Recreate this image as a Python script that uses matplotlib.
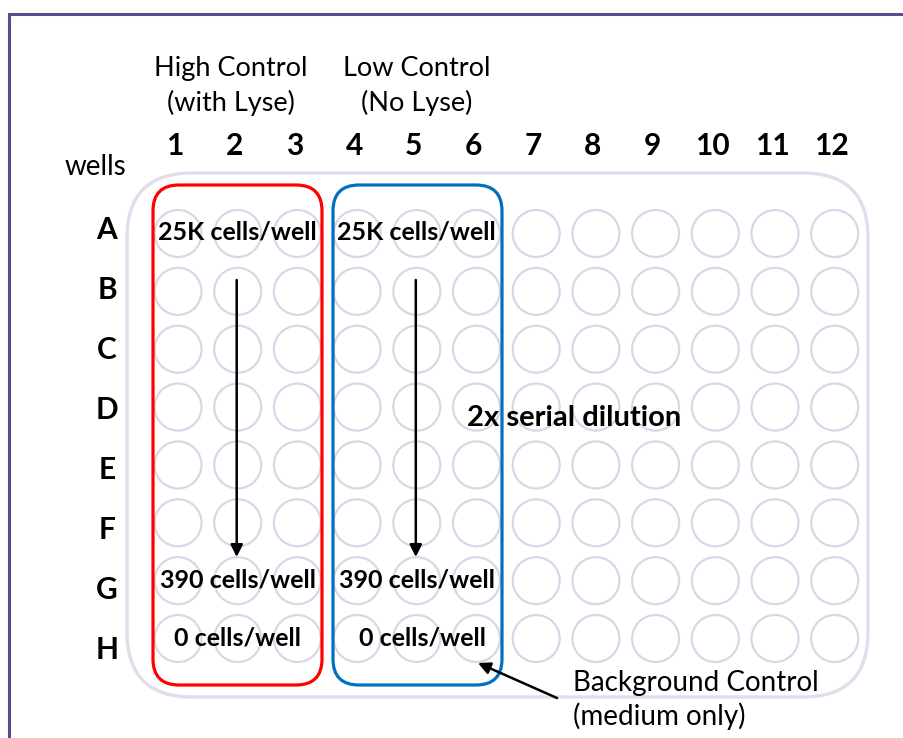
import matplotlib.pyplot as plt
from matplotlib.patches import Ellipse, FancyBboxPatch

# plate layout
columns = [str(c) for c in range(1, 13)]
rows = ["A", "B", "C", "D", "E", "F", "G", "H"]

# group labels over the columns
group_labels = ["High Control\n(with Lyse)", "Low Control\n(No Lyse)"]
group_cols = [1.89, 5.0]

# well annotations: (text, column, row)
well_texts = [
    ("25K cells/well", 2, "A"), ("25K cells/well", 5, "A"),
    ("390 cells/well", 2, "G"), ("390 cells/well", 5, "G"),
    ("0 cells/well", 2, "H"), ("0 cells/well", 5.1, "H"),
]

# pixel geometry of the plate
x0, dx = 178, 59.7
y0, dy = 233.5, 57.86
r_well = 23.5


def wx(c):
    return x0 + (c - 1) * dx


def wy(r):
    return y0 + rows.index(r) * dy


plt.rcParams['font.family'] = ['Lato', 'DejaVu Sans']
fig = plt.figure(figsize=(9.04, 7.38), dpi=100)
ax = fig.add_axes([0, 0, 1, 1])
ax.set_xlim(0, 904)
ax.set_ylim(738, 0)
ax.axis("off")

# outer frame
frame = "#5f4a8b"
ax.plot([9.5, 9.5, 904], [738, 13.5, 13.5], color=frame, lw=2.2,
        solid_joinstyle="miter")

# plate outline
plate = FancyBboxPatch((127, 173), 741, 524,
                       boxstyle="round,pad=0,rounding_size=65",
                       fc="none", ec="#e2dcec", lw=2.4)
ax.add_patch(plate)

# wells
for ci, c in enumerate(columns):
    for r in rows:
        ax.add_patch(Ellipse((wx(ci + 1), wy(r)), 2 * r_well, 2 * r_well,
                             fc="none", ec="#dcd5e7", lw=1.6))

# control boxes
ax.add_patch(FancyBboxPatch((153, 185), 169, 500,
                            boxstyle="round,pad=0,rounding_size=26",
                            fc="none", ec="#ff0000", lw=2.3))
ax.add_patch(FancyBboxPatch((333, 185), 169, 500,
                            boxstyle="round,pad=0,rounding_size=26",
                            fc="none", ec="#0070c0", lw=2.3))

# column numbers
for ci, c in enumerate(columns):
    ax.text(wx(ci + 1) - 3, 146, c, ha="center", va="center",
            fontsize=21.5, fontweight="bold")

# row letters
for ri, r in enumerate(rows):
    ax.text(107, 230 + ri * 60, r, ha="center", va="center",
            fontsize=21.5, fontweight="bold")

ax.text(95, 167, "wells", ha="center", va="center", fontsize=20)

for lab, c in zip(group_labels, group_cols):
    ax.text(wx(c), 86, lab, ha="center", va="center", fontsize=19.5,
            linespacing=1.4)

for t, c, r in well_texts:
    ax.text(wx(c), wy(r) - 1, t, ha="center", va="center", fontsize=18,
            fontweight="bold", zorder=5)

ax.text(574, 418, "2x serial dilution", ha="center", va="center",
        fontsize=21, fontweight="bold")

# dilution arrows
for c in [2, 5]:
    ax.annotate("", xy=(wx(c) - 1, 557), xytext=(wx(c) - 1, 280),
                arrowprops=dict(arrowstyle="-|>", color="black", lw=1.8,
                                mutation_scale=18, shrinkA=0, shrinkB=0))

# background control arrow
ax.annotate("", xy=(478, 663), xytext=(557, 698),
            arrowprops=dict(arrowstyle="-|>", color="black", lw=1.8,
                            mutation_scale=18, shrinkA=0, shrinkB=0))
ax.text(573, 700, "Background Control\n(medium only)", ha="left",
        va="center", fontsize=20, linespacing=1.32)

fig.savefig("out.png", dpi=100)
